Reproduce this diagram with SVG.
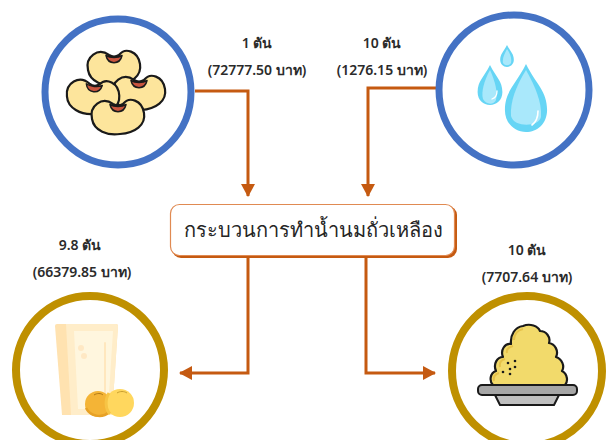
<svg xmlns="http://www.w3.org/2000/svg" width="613" height="440" viewBox="0 0 613 440">
  <style>
    .lbl { font-family: "Noto Sans", "DejaVu Sans", sans-serif; font-size: 14px; font-weight: 600; fill: #2B2B2B; text-anchor: middle; }
    .title { font-family: "Noto Sans", "DejaVu Sans", sans-serif; font-size: 20px; fill: #262626; text-anchor: middle; }
    .wire { fill: none; stroke: #C55A11; stroke-width: 3; }
    .ring-blue { fill: #FFFFFF; stroke: #4472C4; stroke-width: 7; }
    .ring-gold { fill: #FFFFFF; stroke: #BF9000; stroke-width: 8; }
    .bean { fill: #FDE59C; stroke: #1A1A1A; stroke-width: 2.2; stroke-linejoin: round; }
    .hilum { fill: #C9553F; stroke: #1A1A1A; stroke-width: 1.5; stroke-linejoin: round; }
  </style>
  <defs>
    <marker id="arrow" markerUnits="userSpaceOnUse" markerWidth="14" markerHeight="14" viewBox="0 0 14 14" refX="12" refY="7" orient="auto">
      <path d="M0,0 L13,7 L0,14 Z" fill="#C55A11"/>
    </marker>
    <!-- one kidney bean with its hilum, centred on the origin -->
    <g id="bean-shape">
      <path class="bean" d="M -5,-13 C -16,-21 -29,-11 -26,2 C -24,14 -10,19 2,17 C 17,16 28,8 26,-4 C 24,-17 11,-21 5,-13 C 2,-11 -2,-11 -5,-13 Z"/>
      <path class="hilum" d="M -8,-12.5 C -6,-3 6,-3 8,-12.5 C 4,-10 -4,-10 -8,-12.5 Z"/>
    </g>
    <path id="drop" d="M 0,-1 C 0.3,-0.4 0.62,-0.2 0.62,0.35 C 0.62,0.75 0.33,1 0,1 C -0.33,1 -0.62,0.75 -0.62,0.35 C -0.62,-0.2 -0.3,-0.4 0,-1 Z"/>
  </defs>

  <!-- connectors -->
  <g id="connectors">
    <path class="wire" d="M 195,91 H 248 V 196" marker-end="url(#arrow)"/>
    <path class="wire" d="M 436,88 H 368 V 196" marker-end="url(#arrow)"/>
    <path class="wire" d="M 248,257 V 373 H 180" marker-end="url(#arrow)"/>
    <path class="wire" d="M 366,257 V 373 H 435" marker-end="url(#arrow)"/>
  </g>

  <!-- soybeans input -->
  <g id="soybeans">
    <circle class="ring-blue" cx="118" cy="92" r="73"/>
    <use href="#bean-shape" transform="translate(114,68)"/>
    <use href="#bean-shape" transform="translate(139,93)"/>
    <use href="#bean-shape" transform="translate(93,97) rotate(6)"/>
    <use href="#bean-shape" transform="translate(118,117)"/>
    <text class="lbl" x="257" y="48">1 ตัน</text>
    <text class="lbl" x="257" y="75">(72777.50 บาท)</text>
  </g>

  <!-- water input -->
  <g id="water">
    <circle class="ring-blue" cx="514" cy="90" r="75"/>
    <g transform="translate(507,56) scale(11)">
      <use href="#drop" fill="#66D5F5"/>
    </g>
    <g transform="translate(490,85) scale(20)">
      <use href="#drop" fill="#66D5F5"/>
    </g>
    <g transform="translate(526,98) scale(34)">
      <use href="#drop" fill="#66D5F5"/>
    </g>
    <path d="M 483,99 C 481,92 484,81 490,70 C 495,81 498,92 496,100 C 494,105 486,105 483,99 Z" fill="#A9E8FB"/>
    <path d="M 511,116 C 510,102 516,86 526,70 C 535,86 542,102 541,117 C 539,127 514,128 511,116 Z" fill="#A9E8FB"/>
    <path d="M 503,63 C 502,58 505,53 507,49 C 510,53 512,58 511,63 C 509,66 505,66 503,63 Z" fill="#A9E8FB"/>
    <path d="M 497,91 C 497,95 495,98 492,99" fill="none" stroke="#FFFFFF" stroke-width="1.3" stroke-linecap="round"/>
    <path d="M 538,111 C 538,118 536,122 532,125" fill="none" stroke="#FFFFFF" stroke-width="1.6" stroke-linecap="round"/>
    <text class="lbl" x="382" y="48">10 ตัน</text>
    <text class="lbl" x="382" y="75">(1276.15 บาท)</text>
  </g>

  <!-- process box -->
  <g id="process">
    <rect x="172" y="206" width="285" height="52" rx="9" fill="#C55A11"/>
    <rect x="170.5" y="204.5" width="284" height="51" rx="9" fill="#FFFFFF" stroke="#E08A52" stroke-width="1.2"/>
    <text class="title" x="313" y="237">กระบวนการทำน้ำนมถั่วเหลือง</text>
  </g>

  <!-- soy milk output -->
  <g id="soymilk">
    <circle class="ring-gold" cx="90" cy="370" r="74"/>
    <path d="M 57,324 H 116 Q 118,324 118,326 L 112,415 H 62 L 55,326 Q 55,324 57,324 Z" fill="#FFE2B0"/>
    <path d="M 66,324 H 116 Q 118,324 118,326 L 112,415 H 71 Z" fill="#FFEDC9"/>
    <path d="M 74,331 H 113 L 108,409 H 78 Z" fill="#FFF6DE"/>
    <path d="M 105,343 V 398" stroke="#FFE7BE" stroke-width="2" stroke-linecap="round"/>
    <circle cx="81" cy="348" r="3" fill="#FFE8C4"/>
    <circle cx="84" cy="356" r="3" fill="#FFE8C4"/>
    <circle cx="98" cy="404" r="13" fill="#F4B436"/>
    <path d="M 86,408 C 90,416 102,419 109,412" fill="none" stroke="#E7A126" stroke-width="2.5"/>
    <path d="M 94,395 C 97,393 101,393 103,395" fill="none" stroke="#B07A18" stroke-width="1"/>
    <circle cx="120" cy="403" r="14" fill="#FFD75E"/>
    <path d="M 109,393 C 105,399 105,409 110,414" fill="none" stroke="#F7C445" stroke-width="3"/>
    <path d="M 117,393 C 120,391 124,391 127,393" fill="none" stroke="#C9A030" stroke-width="1"/>
    <text class="lbl" x="80" y="250">9.8 ตัน</text>
    <text class="lbl" x="82" y="277">(66379.85 บาท)</text>
  </g>

  <!-- okara output -->
  <g id="okara">
    <circle class="ring-gold" cx="527" cy="371" r="75"/>
    <path d="M 493,385 C 489,381 490,373 496,371 C 493,364 497,357 503,357 C 500,350 505,343 511,344 C 510,335 515,327 523,326 C 530,323 538,326 540,331 C 546,331 551,337 549,343 C 555,344 559,351 556,357 C 562,359 565,366 562,371 C 568,374 568,382 565,385 Z" fill="#F2DA6B" stroke="#1A1A1A" stroke-width="2.2" stroke-linejoin="round"/>
    <path d="M 494,381 C 493,377 495,374 499,373 M 500,367 C 499,362 501,360 505,359 M 507,353 C 506,349 509,347 513,346 M 514,340 C 514,334 518,330 523,329" fill="none" stroke="#E6C24A" stroke-width="2"/>
    <g fill="#1A1A1A">
      <circle cx="508" cy="363" r="1.3"/>
      <circle cx="515" cy="361" r="1.3"/>
      <circle cx="510" cy="369" r="1.3"/>
      <circle cx="515" cy="367" r="1.3"/>
      <circle cx="503" cy="372" r="1.3"/>
      <circle cx="510" cy="374" r="1.3"/>
    </g>
    <path d="M 495,395 H 559 L 554,405 H 500 Z" fill="#BFBFBF" stroke="#1A1A1A" stroke-width="2" stroke-linejoin="round"/>
    <rect x="478" y="385" width="99" height="10" rx="4" fill="#A6A6A6" stroke="#1A1A1A" stroke-width="2"/>
    <text class="lbl" x="527" y="255">10 ตัน</text>
    <text class="lbl" x="527" y="282">(7707.64 บาท)</text>
  </g>
</svg>
